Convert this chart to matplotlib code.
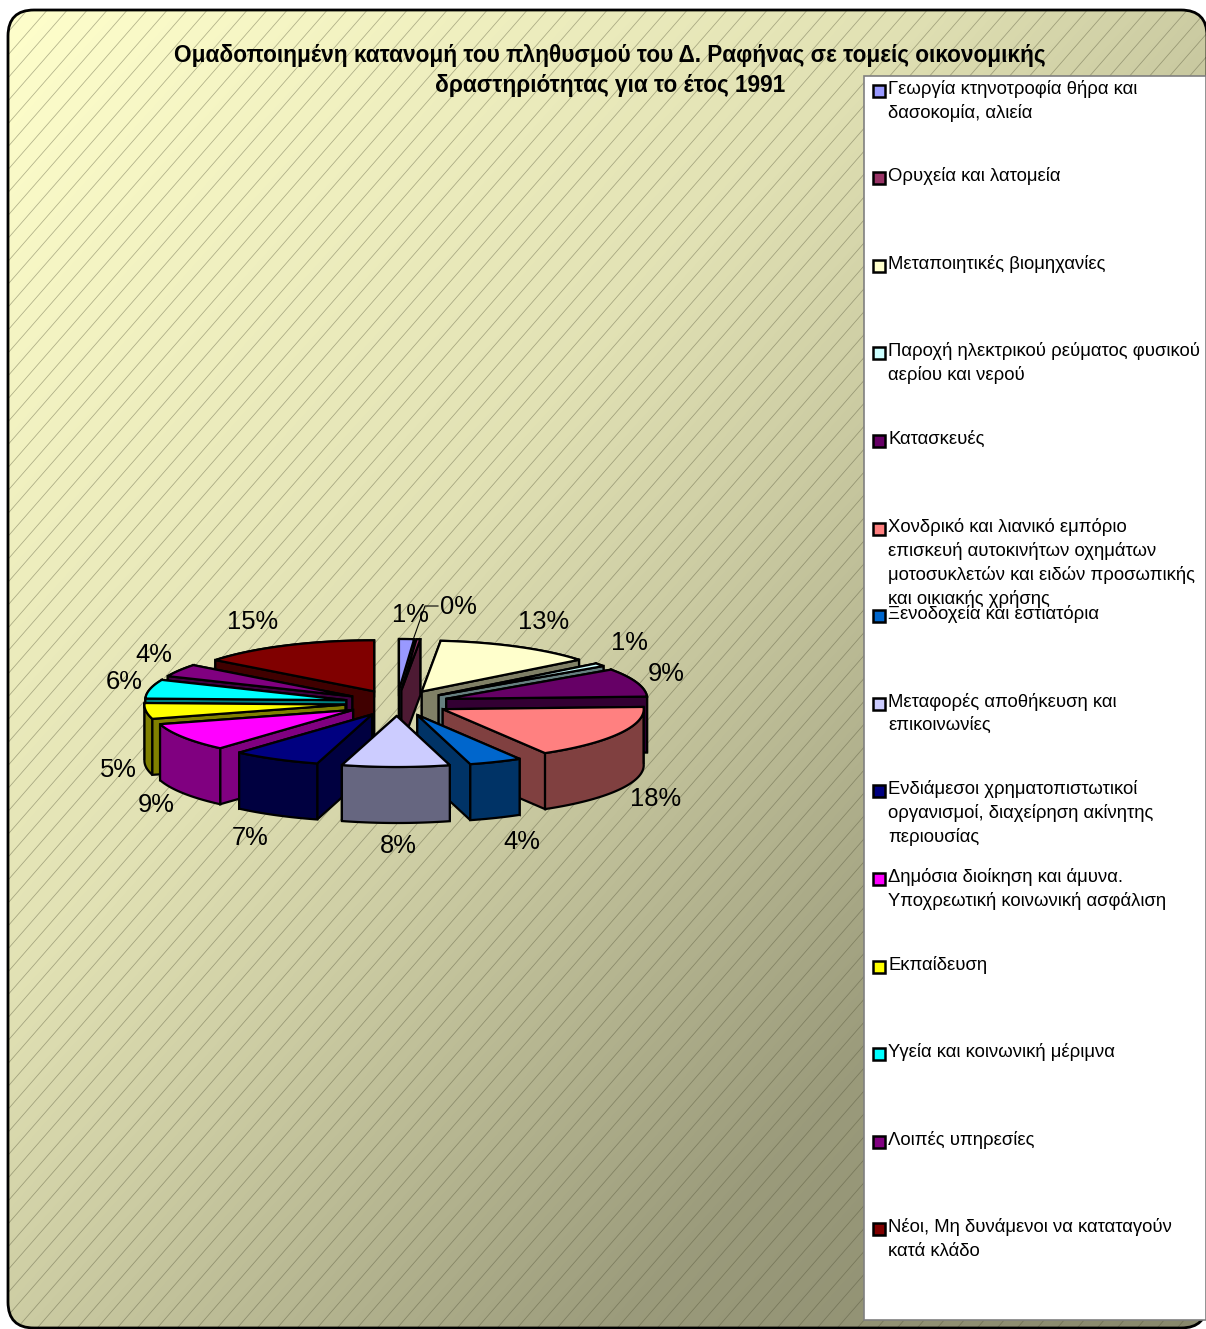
import numpy as np
import matplotlib
matplotlib.use("Agg")
import matplotlib.pyplot as plt
from matplotlib.patches import FancyBboxPatch, Polygon, Rectangle

plt.rcParams['font.family'] = ['Liberation Sans', 'DejaVu Sans']

# ---------- data ----------
title_lines = ["Ομαδοποιημένη κατανομή του πληθυσμού του Δ. Ραφήνας σε τομείς οικονομικής",
               "δραστηριότητας για το έτος 1991"]
categories = [
    ["Γεωργία κτηνοτροφία θήρα και", "δασοκομία, αλιεία"],
    ["Ορυχεία και λατομεία"],
    ["Μεταποιητικές βιομηχανίες"],
    ["Παροχή ηλεκτρικού ρεύματος φυσικού", "αερίου και νερού"],
    ["Κατασκευές"],
    ["Χονδρικό και λιανικό εμπόριο", "επισκευή αυτοκινήτων οχημάτων",
     "μοτοσυκλετών και ειδών προσωπικής", "και οικιακής χρήσης"],
    ["Ξενοδοχεία και εστιατόρια"],
    ["Μεταφορές αποθήκευση και", "επικοινωνίες"],
    ["Ενδιάμεσοι χρηματοπιστωτικοί", "οργανισμοί, διαχείρηση ακίνητης", "περιουσίας"],
    ["Δημόσια διοίκηση και άμυνα.", "Υποχρεωτική κοινωνική ασφάλιση"],
    ["Εκπαίδευση"],
    ["Υγεία και κοινωνική μέριμνα"],
    ["Λοιπές υπηρεσίες"],
    ["Νέοι, Μη δυνάμενοι να καταταγούν", "κατά κλάδο"],
]
values = [1.2, 0.3, 12.8, 1.0, 9.0, 17.2, 4.25, 8.65, 7.1, 9.0, 5.0, 6.0, 4.0, 14.5]
pct_labels = ["1%", "0%", "13%", "1%", "9%", "18%", "4%", "8%", "7%", "9%", "5%", "6%", "4%", "15%"]

top_colors = ["#9999FF", "#993366", "#FFFFCC", "#CCFFFF", "#660066", "#FF8080", "#0066CC",
              "#CCCCFF", "#000080", "#FF00FF", "#FFFF00", "#00FFFF", "#800080", "#800000"]
wall_colors = ["#666699", "#4D1A33", "#808066", "#668080", "#330033", "#804040", "#003366",
               "#666680", "#000040", "#800080", "#808000", "#008080", "#400040", "#400000"]

# ---------- layout (pixels) ----------
W, H = 1206, 1329
cx, cy = 397, 703
rx, ry = 201, 51
ex, ey = 52, 13
depth = 56
label_xy = [(410, 615), (458, 607), (544, 622), (629, 643), (666, 674), (656, 799), (522, 842),
            (398, 846), (250, 838), (156, 805), (118, 770), (124, 682), (154, 655), (253, 622)]

fig = plt.figure(figsize=(W / 100, H / 100), dpi=100, facecolor="white")
ax = fig.add_axes([0, 0, 1, 1])
ax.set_xlim(0, W)
ax.set_ylim(H, 0)
ax.axis("off")

# ---------- chart area ----------
frame = FancyBboxPatch((8 + 26, 10 + 26), W - 8 - 52 + 1, 1328 - 10 - 52,
                       boxstyle="round,pad=26,rounding_size=26",
                       linewidth=2.0, edgecolor="black", facecolor="none", zorder=3)
ax.add_patch(frame)

yy, xx = np.mgrid[0:1:256j, 0:1:256j]
t = np.interp((xx + yy) / 2, [0, 0.38, 0.5, 0.756, 1], [0, 0.25, 0.42, 0.84, 1])
c0 = np.array([255, 255, 204]) / 255
c1 = np.array([136, 136, 108]) / 255
grad = c0[None, None, :] + t[..., None] * (c1 - c0)[None, None, :]
im = ax.imshow(grad, extent=(0, W, H, 0), aspect="auto", zorder=0, interpolation="bilinear")
ax.set_xlim(0, W)
ax.set_ylim(H, 0)
im.set_clip_path(frame)

slope = 1.146
for b in np.arange(-64, W + H * 1.2, 20):
    ln, = ax.plot([b, b - 1500], [0, 1500 * slope], color="#4a4a30", alpha=0.42, lw=0.55, zorder=1)
    ln.set_clip_path(frame)

# ---------- title ----------
ax.text(610, 55.5, title_lines[0], ha="center", va="center", fontsize=16.25, fontweight="bold", color="black", zorder=6)
ax.text(610, 85.5, title_lines[1], ha="center", va="center", fontsize=16.25, fontweight="bold", color="black", zorder=6)

# ---------- exploded 3-D pie, clockwise from 12 o'clock ----------
vals = np.array(values, dtype=float)
cum = np.concatenate([[0], np.cumsum(vals)]) / vals.sum() * 2 * np.pi
mids = (cum[:-1] + cum[1:]) / 2
order = np.argsort(-np.cos(mids))
edge = dict(edgecolor="black", linewidth=1.6, joinstyle="miter")

for i in order:
    a0, a1 = cum[i], cum[i + 1]
    m = mids[i]
    ax0 = cx + ex * np.sin(m)
    ay0 = cy - ey * np.cos(m)
    th = np.linspace(a0, a1, max(3, int(np.degrees(a1 - a0)) + 2))
    rimx = ax0 + rx * np.sin(th)
    rimy = ay0 - ry * np.cos(th)
    apex = np.array([ax0, ay0])
    down = np.array([0, depth])
    rim = np.column_stack([rimx, rimy])
    faces = [np.array([apex, rim[0], rim[0] + down, apex + down]),
             np.array([apex, rim[-1], rim[-1] + down, apex + down]),
             np.vstack([rim, (rim + down)[::-1]])]
    faces.sort(key=lambda f: f[:, 1].mean())
    for f in faces:
        ax.add_patch(Polygon(f, closed=True, facecolor=wall_colors[i], zorder=4, **edge))
    ax.add_patch(Polygon(np.vstack([apex, rim]), closed=True, facecolor=top_colors[i], zorder=4, **edge))

# ---------- data labels ----------
for s, (lx, ly) in zip(pct_labels, label_xy):
    ax.text(lx, ly, s, ha="center", va="center", fontsize=18.4, color="black", zorder=6)
ax.plot([438, 425, 413], [606, 606, 640], color="black", lw=0.8, zorder=5)

# ---------- legend ----------
ax.add_patch(Rectangle((864, 76), W - 864, 1320 - 76, facecolor="white", edgecolor="#808080", linewidth=1.2, zorder=5))
for i, lines in enumerate(categories):
    y0 = 88.5 + i * 87.6
    ax.add_patch(Rectangle((873, y0 - 4), 12, 12, facecolor=top_colors[i], edgecolor="black", linewidth=1.8, zorder=6))
    for j, line in enumerate(lines):
        ax.text(888, y0 + j * 24, line, ha="left", va="center", fontsize=13.3, color="black", zorder=7)

fig.savefig("out.png", dpi=100, facecolor="white")
